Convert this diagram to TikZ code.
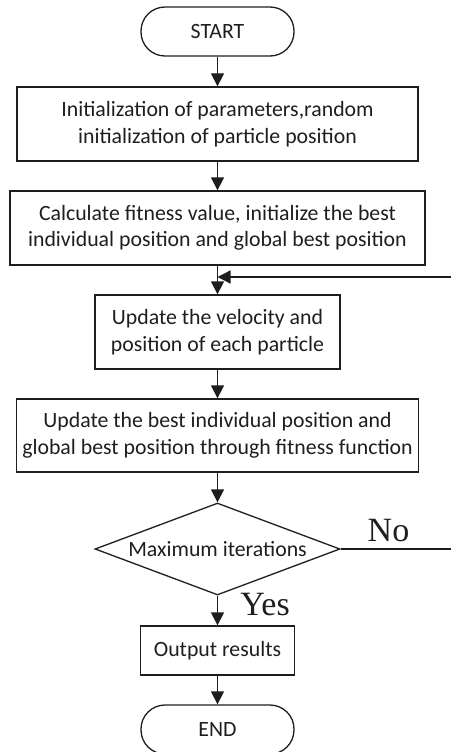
\documentclass[tikz,border=0pt]{standalone}
\usepackage{fontspec}
\setmainfont{Carlito}
\newfontfamily\serifnum{Liberation Serif}
\usetikzlibrary{shapes.geometric,arrows.meta}
\definecolor{ink}{HTML}{1E1E1E}
\tikzset{
  every node/.style={font=\fontsize{21.8}{26.5}\selectfont, text=ink, align=center},
  proc/.style={draw=ink, line width=1.3pt, rectangle, inner sep=0pt},
  term/.style={draw=ink, line width=1.3pt, rectangle, rounded corners=24pt, inner sep=0pt, minimum width=153pt, minimum height=49pt},
  decis/.style={draw=ink, line width=1.3pt, diamond, inner sep=0pt, minimum width=245pt, minimum height=92pt, shape aspect=2.66},
  flow/.style={draw=ink, line width=1.3pt, -{Triangle[width=13pt,length=13pt]}},
  plain/.style={draw=ink, line width=1.3pt},
  yn/.style={font=\serifnum\fontsize{34}{34}\selectfont, anchor=base, inner sep=0pt}
}
\begin{document}
\begin{tikzpicture}[x=1pt,y=-1pt]
\useasboundingbox (0,0) rectangle (451,752);
\clip (0,0) rectangle (451,752);
\node[term] (start) at (217.5,31.5) {START};
\node[proc, minimum width=401pt, minimum height=74pt] (init) at (217.5,124) {Initialization of parameters,random\\initialization of particle position};
\node[proc, minimum width=415pt, minimum height=74pt] (fit) at (217.5,228) {Calculate fitness value, initialize the best\\individual position and global best position};
\node[proc, minimum width=245pt, minimum height=74pt] (vel) at (217.5,332) {Update the velocity and\\position of each particle};
\node[proc, minimum width=402pt, minimum height=73pt] (best) at (217.5,435.5) {Update the best individual position and\\global best position through fitness function};
\node[decis] (dia) at (217.5,549) {Maximum iterations};
\node[proc, minimum width=154pt, minimum height=49pt] (out) at (217.5,650.5) {Output results};
\node[term] (end) at (217.5,729.5) {END};
\coordinate (fbR) at (451,277);
\coordinate (fbJ) at (217.5,277);
\coordinate (noR) at (451,549);
\draw[flow] (start) -- (init);
\draw[flow] (init) -- (fit);
\draw[flow] (fit) -- (vel);
\draw[flow] (fbR) -- (fbJ);
\draw[flow] (vel) -- (best);
\draw[flow] (best) -- (dia);
\draw[flow] (dia) -- (out);
\draw[flow] (out) -- (end);
\draw[plain] (dia.east) -- (noR);
\node[yn] (no) at (388.5,541) {No};
\node[yn] (yes) at (265,615) {Yes};
\end{tikzpicture}
\end{document}
